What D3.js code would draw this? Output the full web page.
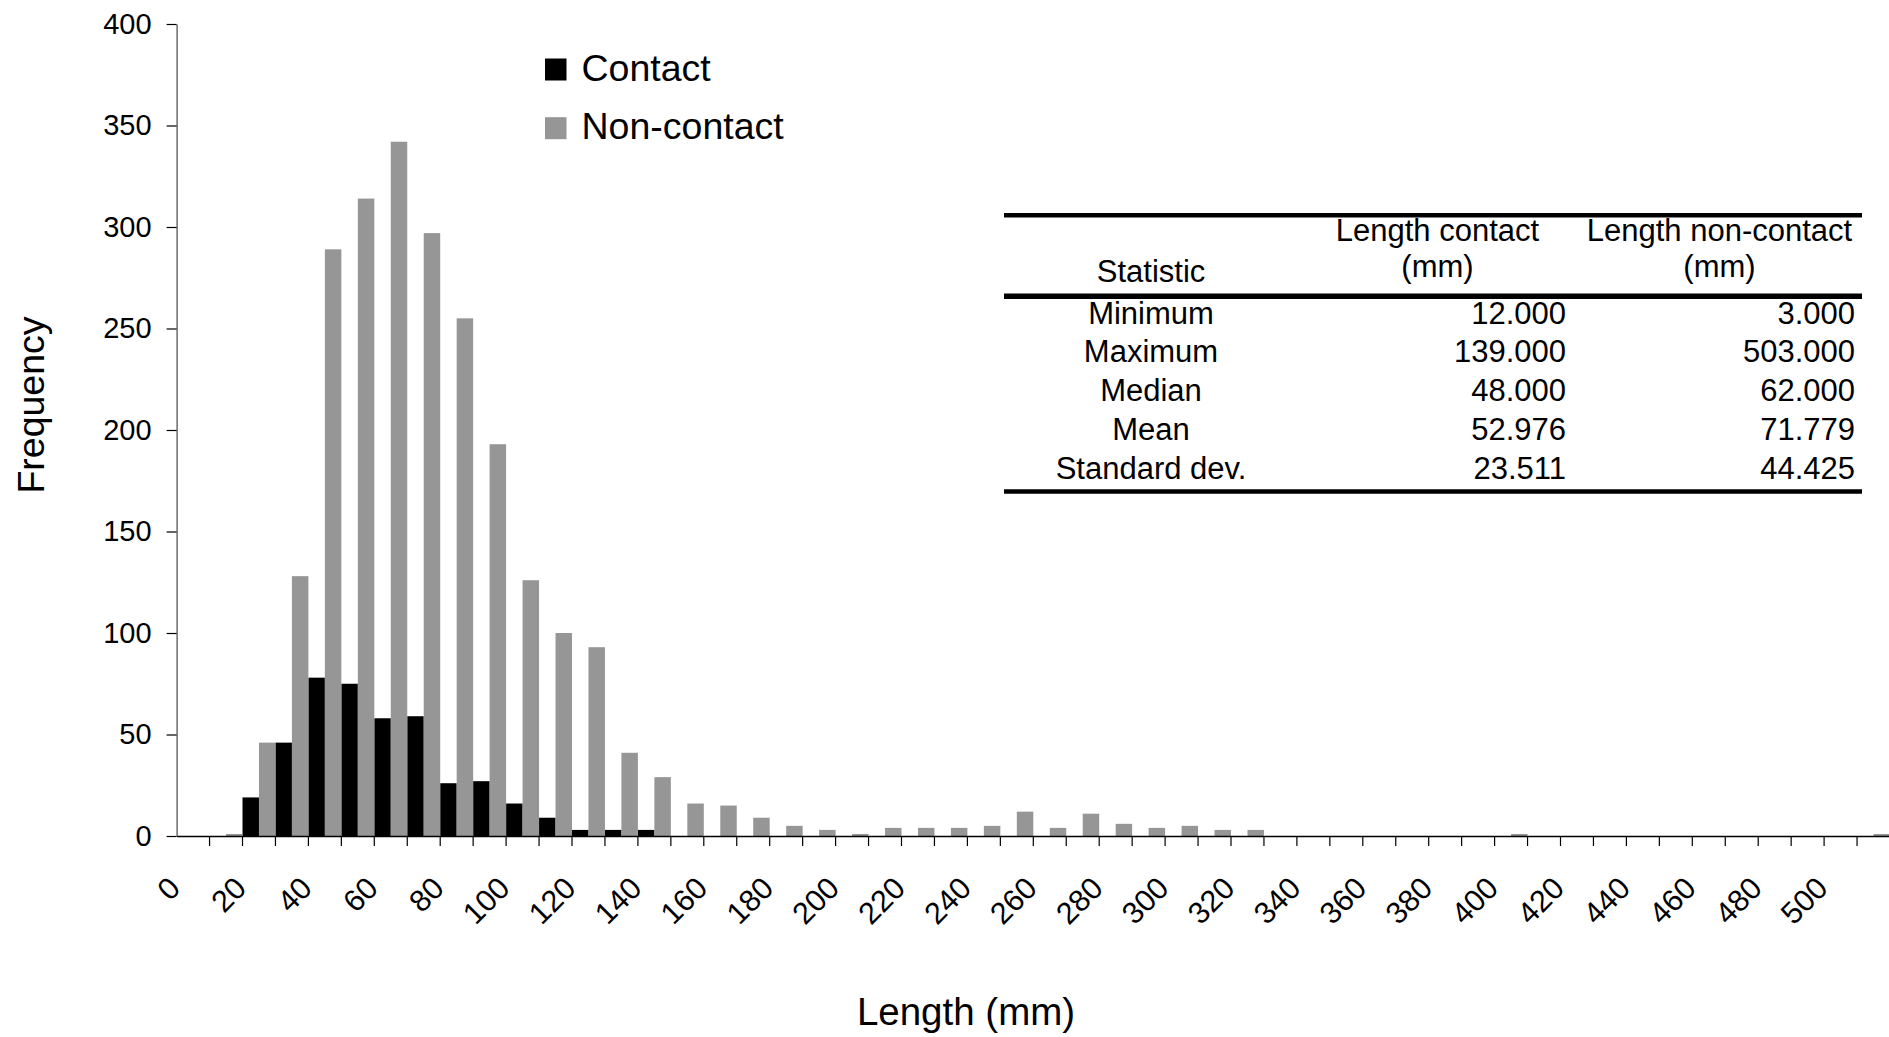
<!DOCTYPE html>
<html>
<head>
<meta charset="utf-8">
<script src="https://cdn.jsdelivr.net/npm/d3@7/dist/d3.min.js"></script>
<style>
  html, body { margin: 0; padding: 0; background: #fff; }
  svg { display: block; }
  text { font-family: "Liberation Sans", Arial, Helvetica, sans-serif; fill: #000; }
</style>
</head>
<body>
<svg id="chart" width="1889" height="1037"></svg>
<script>
// ---------- DATA ----------
const categories = [0,10,20,30,40,50,60,70,80,90,100,110,120,130,140,150,160,170,180,190,
  200,210,220,230,240,250,260,270,280,290,300,310,320,330,340,350,360,370,380,390,
  400,410,420,430,440,450,460,470,480,490,500,510];
const contact = [0,0,19,46,78,75,58,59,26,27,16,9,3,3,3,0,0,0,0,0,
  0,0,0,0,0,0,0,0,0,0,0,0,0,0,0,0,0,0,0,0,
  0,0,0,0,0,0,0,0,0,0,0,0];
const nonContact = [0,1,46,128,289,314,342,297,255,193,126,100,93,41,29,16,15,9,5,3,
  1,4,4,4,5,12,4,11,6,4,5,3,3,0,0,0,0,0,0,0,
  1,0,0,0,0,0,0,0,0,0,0,1];
const seriesNames = ["Contact", "Non-contact"];
const seriesColors = ["#000000", "#969696"];
const yTicks = [0,50,100,150,200,250,300,350,400];
const tableHeader = ["Statistic", "Length contact|(mm)", "Length non-contact|(mm)"];
const tableStats = ["Minimum", "Maximum", "Median", "Mean", "Standard dev."];
const tableContact = ["12.000", "139.000", "48.000", "52.976", "23.511"];
const tableNonContact = ["3.000", "503.000", "62.000", "71.779", "44.425"];

// ---------- LAYOUT ----------
const svg = d3.select("#chart");
const plotLeft = 176.6, plotRight = 1890, plotTop = 24, plotBottom = 836;

const x = d3.scaleBand().domain(categories).range([plotLeft, plotRight]).paddingInner(0).paddingOuter(0);
const xs = d3.scaleBand().domain([0, 1]).range([0, x.bandwidth()]).padding(0);
const y = d3.scaleLinear().domain([0, 400]).range([plotBottom, plotTop]);

// Bars
const seriesData = [contact, nonContact];
seriesData.forEach((vals, si) => {
  svg.append("g").selectAll("rect")
    .data(categories.map((c, i) => ({c, v: vals[i]})).filter(d => d.v > 0))
    .join("rect")
    .attr("x", d => x(d.c) + xs(si))
    .attr("width", xs.bandwidth())
    .attr("y", d => y(d.v))
    .attr("height", d => y(0) - y(d.v))
    .attr("fill", seriesColors[si]);
});

// Y axis
const yAxis = svg.append("g")
  .attr("transform", `translate(${plotLeft},0)`)
  .call(d3.axisLeft(y).tickValues(yTicks).tickSize(10).tickSizeOuter(0).tickPadding(15));
yAxis.select(".domain").attr("stroke", "#555").attr("stroke-width", 1.3);
yAxis.selectAll(".tick line").attr("stroke", "#000").attr("stroke-width", 1.2);
yAxis.selectAll(".tick text").style("font-size", "29px").attr("fill", "#000");

// X axis (domain line)
const xAxis = svg.append("g")
  .attr("transform", `translate(0,${plotBottom})`)
  .call(d3.axisBottom(x).tickValues([]).tickSizeOuter(0));
xAxis.select(".domain").attr("stroke", "#000").attr("stroke-width", 1.5);

// X ticks at category boundaries
svg.append("g").selectAll("line")
  .data(categories.slice(1))
  .join("line")
  .attr("x1", d => x(d)).attr("x2", d => x(d))
  .attr("y1", plotBottom).attr("y2", plotBottom + 10)
  .attr("stroke", "#000").attr("stroke-width", 1.2);

// X tick labels (every other category)
svg.append("g").selectAll("text")
  .data(categories.filter((c, i) => i % 2 === 0 && c <= 500))
  .join("text")
  .attr("transform", d => `translate(${x(d) + x.bandwidth() / 2 - 11},${plotBottom + 54}) rotate(-45)`)
  .attr("text-anchor", "end")
  .style("font-size", "30.5px")
  .text(d => d);

// Axis titles
svg.append("text")
  .attr("transform", `translate(44,405) rotate(-90)`)
  .attr("text-anchor", "middle")
  .style("font-size", "37.5px")
  .text("Frequency");
svg.append("text")
  .attr("x", 966).attr("y", 1025)
  .attr("text-anchor", "middle")
  .style("font-size", "38.5px")
  .text("Length (mm)");

// Legend
const legend = svg.append("g");
seriesNames.forEach((name, i) => {
  const baseY = 80.5 + i * 58.7;
  legend.append("rect")
    .attr("x", 545).attr("y", baseY - 22).attr("width", 21.5).attr("height", 22)
    .attr("fill", seriesColors[i]);
  legend.append("text")
    .attr("x", 581.5).attr("y", baseY)
    .style("font-size", "37.5px")
    .text(name);
});

// Table
const tbl = svg.append("g");
const tLeft = 1004, tRight = 1862;
[[215.3, 4.5], [296.2, 5.6], [491.5, 4.7]].forEach(([yy, w]) => {
  tbl.append("line").attr("x1", tLeft).attr("x2", tRight)
    .attr("y1", yy).attr("y2", yy)
    .attr("stroke", "#000").attr("stroke-width", w);
});
const colStatCenter = 1151, colCHeadCenter = 1437.5, colNHeadCenter = 1719.5;
const colCRight = 1566, colNRight = 1855;
const tFont = "31px";
tbl.append("text").attr("x", colStatCenter).attr("y", 281.7).attr("text-anchor", "middle")
  .style("font-size", tFont).text(tableHeader[0]);
[[tableHeader[1], colCHeadCenter], [tableHeader[2], colNHeadCenter]].forEach(([h, cx]) => {
  const parts = h.split("|");
  tbl.append("text").attr("x", cx).attr("y", 240.7).attr("text-anchor", "middle")
    .style("font-size", tFont).text(parts[0]);
  tbl.append("text").attr("x", cx).attr("y", 277).attr("text-anchor", "middle")
    .style("font-size", tFont).text(parts[1]);
});
tableStats.forEach((s, i) => {
  const by = 323.5 + i * 38.75;
  tbl.append("text").attr("x", colStatCenter).attr("y", by).attr("text-anchor", "middle")
    .style("font-size", tFont).text(s);
  tbl.append("text").attr("x", colCRight).attr("y", by).attr("text-anchor", "end")
    .style("font-size", tFont).text(tableContact[i]);
  tbl.append("text").attr("x", colNRight).attr("y", by).attr("text-anchor", "end")
    .style("font-size", tFont).text(tableNonContact[i]);
});
</script>
</body>
</html>
